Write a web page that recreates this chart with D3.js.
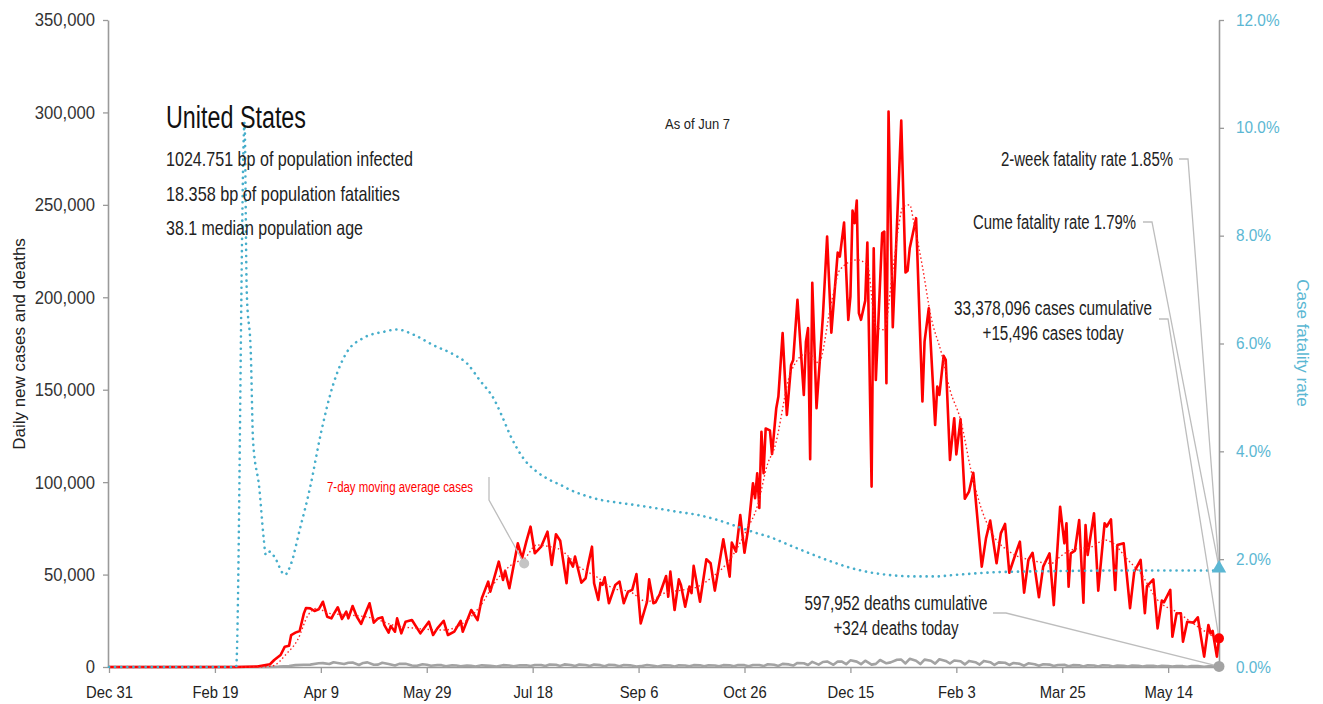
<!DOCTYPE html>
<html><head><meta charset="utf-8">
<script src="https://cdn.jsdelivr.net/npm/d3@7"></script>
<style>
body{margin:0;background:#fff;}
svg text{font-family:"Liberation Sans",Arial,sans-serif;}
</style></head><body>
<svg id="chart" width="1323" height="704"></svg>
<script>
// ---------------- data ----------------
const startDate = "2019-12-31";
const endDate = "2021-06-07";
const xTickLabels = ["2019-12-31","2020-02-19","2020-04-09","2020-05-29","2020-07-18","2020-09-06","2020-10-26","2020-12-15","2021-02-03","2021-03-25","2021-05-14"];
const yTickValues = [0,50000,100000,150000,200000,250000,300000,350000];
const rateTickValues = [0,0.02,0.04,0.06,0.08,0.10,0.12];

// [days since 2019-12-31, daily new cases]
const dailyCases = [[0,0],[50,0],[60,10],[70,300],[76,1500],[78,3800],[81,6500],[83,11000],[85,11500],[86,17300],[88,18600],[90,19500],[92,29000],[93,31900],[95,31700],[97,30300],[99,31200],[101,35300],[103,27200],[105,26300],[106,28500],[108,32300],[110,26000],[112,29900],[113,26300],[115,33000],[117,27200],[119,23300],[121,29000],[123,34500],[125,24000],[127,26300],[129,26900],[130,22700],[132,18600],[133,22200],[135,19100],[136,26300],[138,18200],[140,24500],[143,25400],[147,18200],[151,24500],[153,17300],[155,20900],[158,25000],[160,17300],[163,19100],[166,25000],[167,19100],[171,30800],[174,25400],[176,37200],[179,46200],[180,40700],[184,57000],[186,47100],[187,52000],[189,42600],[193,66900],[195,58800],[197,67800],[199,75900],[201,61500],[204,65100],[207,73200],[209,55200],[211,71800],[213,68300],[216,45300],[217,58800],[219,54300],[220,59700],[223,45600],[225,48000],[226,54300],[228,65100],[229,45300],[231,36300],[232,45600],[233,44400],[234,48500],[236,34500],[239,44400],[241,46200],[243,34500],[245,40700],[247,41700],[249,50300],[251,23600],[254,35300],[255,47400],[257,34500],[258,35000],[260,39500],[263,49200],[264,38000],[265,51600],[267,30800],[269,47400],[270,44400],[272,32600],[274,43500],[275,40000],[276,54700],[279,35300],[282,58300],[284,56100],[286,41300],[290,69100],[293,48900],[294,67300],[296,62400],[298,82200],[300,61800],[302,76800],[304,99400],[305,91300],[306,104800],[307,86000],[308,127300],[309,104800],[310,129000],[312,128000],[313,115200],[315,140000],[316,146300],[318,180600],[320,136400],[322,163400],[323,166100],[325,198600],[328,147200],[329,176000],[330,183300],[331,112400],[332,207900],[334,140000],[337,189600],[339,232800],[341,180900],[344,224200],[345,222000],[347,240400],[349,187800],[350,200400],[351,246900],[352,240100],[353,252300],[354,191400],[355,187800],[357,198200],[358,229600],[360,97600],[361,226500],[362,155300],[365,234700],[366,235500],[367,153500],[368,300500],[370,183800],[374,295600],[376,213400],[377,214400],[378,226500],[381,242800],[384,143600],[385,176000],[387,194100],[390,130900],[391,151700],[392,147200],[394,168300],[395,166100],[397,112000],[399,134600],[400,115000],[402,134000],[404,91000],[406,94900],[408,105100],[412,54300],[414,69600],[416,79200],[419,56100],[421,72300],[423,77400],[425,51000],[427,57900],[430,67800],[432,40200],[434,57900],[436,61800],[439,37700],[441,54300],[444,61500],[446,33500],[449,86700],[451,66900],[452,77800],[453,43500],[454,61500],[456,63000],[458,79500],[460,34800],[461,76800],[462,60600],[465,83200],[467,41300],[470,77800],[471,76000],[473,79900],[475,41700],[476,66000],[479,66900],[482,31800],[484,51600],[487,57900],[489,29100],[490,43800],[493,47400],[495,20900],[497,35900],[498,35000],[501,41700],[502,16400],[504,29100],[506,29100],[507,13700],[509,24500],[512,24000],[514,26900],[517,5600],[519,22700],[520,18200],[521,19500],[523,5600],[524,15496]];

// [days, 7-day moving average cases]
const movingAvgCases = [[0,0],[70,0],[77,500],[84,7400],[89,14600],[94,28100],[98,31700],[104,29000],[114,28100],[125,26300],[134,22700],[145,20900],[158,20000],[167,23600],[175,32600],[183,47100],[191,56100],[196,58500],[202,66000],[208,65100],[212,64000],[223,53400],[230,48900],[238,42600],[246,40700],[254,35300],[262,39900],[271,41700],[278,43500],[285,48900],[293,57900],[301,74100],[306,86700],[311,110200],[314,118000],[322,160000],[330,170000],[335,164500],[341,197000],[345,214800],[353,220200],[358,217500],[362,184100],[366,182400],[370,214800],[375,249100],[378,250000],[380,240000],[384,216600],[388,189600],[393,169700],[397,149900],[402,133700],[407,106000],[412,85000],[416,74100],[426,61700],[435,57900],[445,56100],[449,59700],[454,63300],[464,65100],[470,68700],[474,66900],[481,57900],[487,50700],[495,36300],[505,29100],[514,21800],[524,14600]];

// [days, daily deaths]
const dailyDeaths = [[0,0],[60,0],[70,5],[75,30],[80,200],[85,500],[88,1000],[92,1200],[95,1300],[99,2000],[101,2100],[104,1600],[106,2600],[108,2200],[111,1600],[113,2300],[115,2400],[118,1100],[120,2200],[122,2500],[125,1200],[127,1300],[129,2300],[132,1600],[135,800],[137,1700],[140,1700],[143,800],[145,600],[148,1500],[150,1200],[152,650],[155,1000],[157,1000],[159,400],[162,900],[164,800],[166,400],[169,800],[171,600],[173,300],[176,900],[180,600],[183,300],[186,1000],[189,800],[191,400],[194,900],[197,900],[199,500],[201,1100],[204,1100],[206,500],[208,1300],[211,1200],[213,600],[215,1400],[218,1100],[220,500],[222,1300],[225,1100],[227,500],[229,1300],[232,1000],[234,450],[236,1200],[239,1000],[241,400],[243,1100],[246,900],[249,300],[251,450],[254,1100],[257,700],[259,300],[262,900],[265,800],[267,300],[269,900],[272,850],[274,350],[276,1000],[279,900],[281,400],[283,950],[286,850],[288,400],[290,1000],[293,900],[295,400],[297,1100],[300,1000],[302,400],[304,1100],[307,1100],[309,500],[311,1500],[314,1200],[316,600],[318,1700],[321,1400],[323,800],[325,2200],[328,2000],[330,1100],[332,2800],[335,1300],[337,2700],[339,3000],[342,1200],[344,3000],[346,2900],[348,1500],[350,3600],[353,2900],[355,1500],[357,3400],[360,1300],[362,1700],[364,3800],[367,2000],[369,2500],[372,3900],[374,4000],[376,1900],[378,4400],[381,3400],[383,1600],[385,4000],[388,3400],[390,1800],[392,4200],[395,3300],[397,1900],[399,3500],[402,3100],[404,1400],[406,3300],[409,2600],[411,1300],[413,3300],[416,2600],[418,1100],[420,2500],[423,2300],[425,1100],[427,2200],[430,1700],[432,700],[434,2000],[437,1500],[439,700],[441,1500],[444,1300],[446,500],[448,1100],[451,1200],[453,450],[455,1000],[458,900],[460,300],[462,950],[465,800],[467,300],[469,900],[472,800],[474,300],[476,800],[479,700],[481,250],[483,750],[486,650],[488,250],[490,700],[493,650],[495,200],[497,600],[500,550],[502,200],[504,550],[507,450],[509,150],[511,500],[514,450],[517,100],[519,400],[521,350],[523,120],[524,324]];

// [days, cumulative case fatality rate]
const fatalityRate = [[0,0],[60,0],[64,0.101],[65,0.070],[67,0.0575],[68,0.042],[71,0.033],[73,0.024],[74,0.0208],[76,0.0214],[78,0.0205],[83,0.0171],[86,0.0192],[90,0.0254],[95,0.0334],[100,0.0433],[106,0.0526],[112,0.0582],[120,0.0610],[130,0.0622],[136,0.0626],[144,0.0616],[153,0.0597],[163,0.0579],[169,0.0563],[175,0.0532],[182,0.0495],[185,0.0470],[190,0.0425],[196,0.0385],[202,0.0362],[208,0.0347],[213,0.0338],[218,0.0328],[224,0.0319],[232,0.0310],[240,0.0305],[249,0.0300],[259,0.0294],[268,0.0288],[278,0.0282],[287,0.0273],[297,0.0260],[306,0.0248],[312,0.0241],[320,0.0228],[330,0.0212],[340,0.0197],[350,0.0184],[360,0.0175],[370,0.0170],[380,0.0168],[390,0.0168],[400,0.0171],[420,0.0176],[450,0.0178],[480,0.0179],[524,0.0179]];

const twoWeekRate = 0.0185;
const maMarker = [196, 56000];

const titleLines = ["1024.751 bp of population infected","18.358 bp of population fatalities","38.1 median population age"];

// ---------------- chart ----------------
const svg = d3.select("#chart");
const parse = d3.timeParse("%Y-%m-%d");
const t0 = parse(startDate);
const day = d => d3.timeDay.offset(t0, d);

const x = d3.scaleTime().domain([t0, parse(endDate)]).range([109, 1219]);
const y = d3.scaleLinear().domain([0, 350000]).range([667, 20]);
const yR = d3.scaleLinear().domain([0, 0.12]).range([667, 20]);

const axisColor = "#9a9a9a";
const blue = "#46aecb";
const rateText = "#5bb7d3";

// squeeze text horizontally to imitate the condensed face of the original
function condense(sel, factor){
  sel.each(function(){
    const w = this.getComputedTextLength();
    d3.select(this).attr("textLength", w*factor).attr("lengthAdjust","spacingAndGlyphs");
  });
}
function fitWidth(sel, w){
  sel.attr("textLength", w).attr("lengthAdjust","spacingAndGlyphs");
}

// axes
const gL = svg.append("g").attr("transform","translate(108,0)")
  .call(d3.axisLeft(y).tickValues(yTickValues).tickFormat(d3.format(",")).tickSize(5).tickSizeOuter(0).tickPadding(8));
gL.selectAll("text").attr("font-size",18.5).attr("fill","#333");
condense(gL.selectAll("text"), 0.9);

const gR = svg.append("g").attr("transform","translate(1219,0)")
  .call(d3.axisRight(yR).tickValues(rateTickValues).tickFormat(d3.format(".1%")).tickSize(5).tickSizeOuter(0).tickPadding(12));
gR.selectAll("text").attr("font-size",16).attr("fill",rateText);
condense(gR.selectAll("text"), 0.96);

const gB = svg.append("g").attr("transform","translate(0,667)")
  .call(d3.axisBottom(x).tickValues(xTickLabels.map(parse)).tickFormat(d3.timeFormat("%b %-d")).tickSize(6).tickSizeOuter(0).tickPadding(13));
gB.selectAll("text").attr("font-size",17).attr("fill","#222");
condense(gB.selectAll("text"), 0.87);

[gL,gR,gB].forEach(g=>{
  g.selectAll("path.domain").attr("stroke",axisColor).attr("stroke-width",1.6);
  g.selectAll(".tick line").attr("stroke",axisColor).attr("stroke-width",1.3);
});

// axis titles
svg.append("text").attr("transform","translate(25,344) rotate(-90)").attr("text-anchor","middle")
  .attr("font-size",17).attr("fill","#222")
  .text("Daily new cases and deaths");
svg.append("text").attr("transform","translate(1297,343) rotate(90)").attr("text-anchor","middle")
  .attr("font-size",17).attr("fill",rateText)
  .text("Case fatality rate");

// lines
const lineV = d3.line().x(d=>x(day(d[0]))).y(d=>y(d[1]));
const lineS = d3.line().x(d=>x(day(d[0]))).y(d=>y(d[1])).curve(d3.curveMonotoneX);
const lineR = d3.line().x(d=>x(day(d[0]))).y(d=>yR(d[1])).curve(d3.curveMonotoneX);

svg.append("path").datum(dailyDeaths).attr("d",lineV)
  .attr("fill","none").attr("stroke","#a3a3a3").attr("stroke-width",2.6).attr("stroke-linejoin","round");

svg.append("path").datum(dailyCases).attr("d",lineV)
  .attr("fill","none").attr("stroke","#ff0000").attr("stroke-width",2.6).attr("stroke-linejoin","round");

svg.append("path").datum(movingAvgCases).attr("d",lineS)
  .attr("fill","none").attr("stroke","#ff2020").attr("stroke-width",1.4).attr("stroke-dasharray","1.5,2.5");

svg.append("path").datum(fatalityRate).attr("d",lineR)
  .attr("fill","none").attr("stroke",blue).attr("stroke-width",2.6)
  .attr("stroke-dasharray","0.1,6").attr("stroke-linecap","round");

// leader lines
const leaderColor = "#bdbdbd";
const lastCase = dailyCases[dailyCases.length-1];
const lastDeath = dailyDeaths[dailyDeaths.length-1];
const xe = x(day(lastCase[0]));
const leaders = [
  [[1179,159],[1188,159],[xe, yR(twoWeekRate)]],
  [[1143,222],[1152,222],[xe, yR(twoWeekRate)]],
  [[1159,319],[1168,319],[xe, y(lastCase[1])]],
  [[993,613],[1006,613],[xe, y(lastDeath[1])]],
  [[489,477],[489,500],[x(day(maMarker[0])), y(maMarker[1])]]
];
leaders.forEach(p=>{
  svg.append("path").attr("d",d3.line()(p)).attr("fill","none").attr("stroke",leaderColor).attr("stroke-width",1.3);
});

// markers
svg.append("circle").attr("cx",x(day(maMarker[0]))).attr("cy",y(maMarker[1])).attr("r",5).attr("fill","#c4c4c4");
svg.append("path").attr("d",d3.symbol(d3.symbolTriangle,90)()).attr("transform",`translate(${xe},${yR(twoWeekRate)+1})`).attr("fill",rateText);
svg.append("circle").attr("cx",xe).attr("cy",y(lastCase[1])).attr("r",5).attr("fill","#ff0000");
svg.append("circle").attr("cx",xe).attr("cy",y(lastDeath[1])).attr("r",5.5).attr("fill","#a3a3a3");

// text annotations
function label(xp, yp, s, size, anchor, width, color){
  const t = svg.append("text").attr("x",xp).attr("y",yp).attr("font-size",size)
    .attr("text-anchor",anchor).attr("fill",color||"#222").text(s);
  fitWidth(t, width);
  return t;
}
label(166,128,"United States",31,"start",140,"#111");
const titleWidths = [247,234,197];
titleLines.forEach((s,i)=> label(166,166+i*34.5,s,21,"start",titleWidths[i]));
label(665,129,"As of Jun 7",15.5,"start",65);

label(1173,166,"2-week fatality rate 1.85%",20,"end",172);
label(1136,229,"Cume fatality rate 1.79%",20,"end",163);
label(1053,315,"33,378,096 cases cumulative",20,"middle",198);
label(1053,340,"+15,496 cases today",20,"middle",141);
label(896,610,"597,952 deaths cumulative",20,"middle",183);
label(896,635,"+324 deaths today",20,"middle",125);
label(327,492,"7-day moving average cases",15.5,"start",146,"#ff0000");
</script>
</body></html>
